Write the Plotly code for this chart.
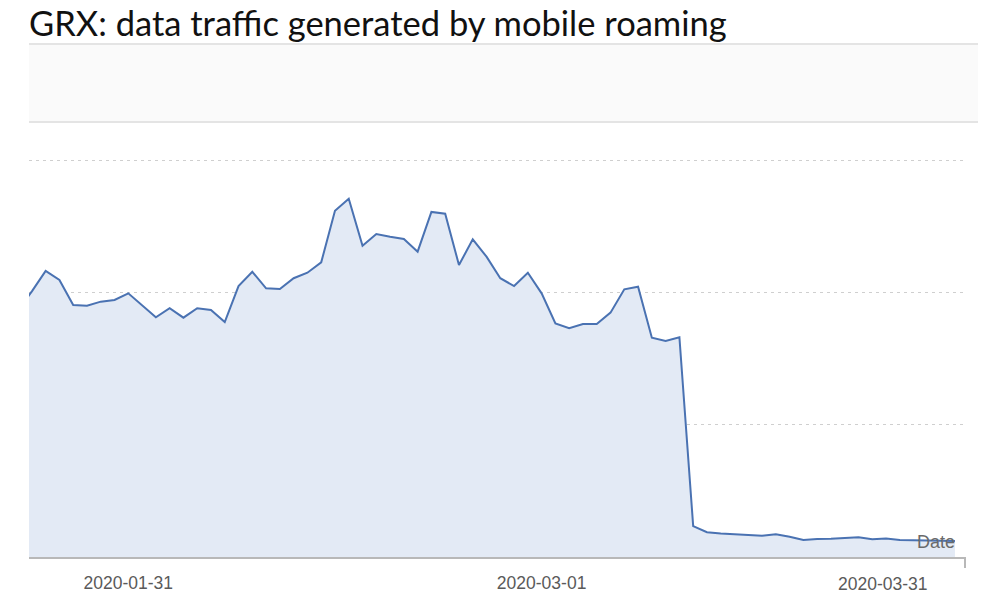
import pandas as pd
import plotly.graph_objects as go

# Daily dates (Jan 23 is just left of the visible window)
dates = pd.date_range("2020-01-23", "2020-03-31", freq="D")

# Relative traffic volume (arbitrary units; gridlines at 1, 2, 3)
traffic = [
    1.867, 2.008, 2.162, 2.094, 1.905, 1.899, 1.930, 1.943, 1.993,   # Jan 23-31
    1.905, 1.812, 1.880, 1.809, 1.880, 1.867, 1.776, 2.048, 2.156,   # Feb 1-9
    2.031, 2.026, 2.107, 2.149, 2.227, 2.617, 2.708, 2.353, 2.441,   # Feb 10-18
    2.421, 2.404, 2.308, 2.608, 2.595, 2.207, 2.401, 2.270, 2.107,   # Feb 19-27
    2.048, 2.149,                                                    # Feb 28-29
    1.993, 1.766, 1.729, 1.761, 1.761, 1.847, 2.023, 2.043, 1.658,   # Mar 1-9
    1.633, 1.661, 0.234, 0.187, 0.178, 0.172, 0.166, 0.161, 0.172,   # Mar 10-18
    0.153, 0.128, 0.136, 0.138, 0.141, 0.149, 0.134, 0.140, 0.128,   # Mar 19-27
    0.127, 0.126, 0.125, 0.121,                                      # Mar 28-31
]

tick_dates = ["2020-01-31", "2020-03-01"]
tick_labels = ["2020-01-31", "2020-03-01"]
last_label = "2020-03-31"
title_text = "GRX: data traffic generated by mobile roaming"
axis_title = "Date"

x_start = pd.Timestamp("2020-01-23 19:00")
x_end = pd.Timestamp("2020-03-31 17:30")

W, H = 999, 610
L, R, T, B = 29, 34, 130, 53
plot_h = H - T - B
plot_w = W - L - R


def py(y_px):
    """page pixel y -> paper y"""
    return (H - B - y_px) / plot_h


fig = go.Figure()
fig.add_trace(go.Scatter(
    x=dates, y=traffic, mode="lines",
    line=dict(color="#4a72b2", width=2),
    fill="tozeroy", fillcolor="rgba(227,234,245,1)",
    hoverinfo="skip", showlegend=False,
))

fig.update_layout(
    width=W, height=H,
    margin=dict(l=L, r=R, t=T, b=B, pad=0),
    paper_bgcolor="white", plot_bgcolor="white",
    showlegend=False,
    font=dict(family="Liberation Sans, Arial, sans-serif", color="#666666"),
    xaxis=dict(
        range=[x_start, x_end], showgrid=False, zeroline=False,
        showline=True, linecolor="#b8b8b8", linewidth=2,
        tickvals=tick_dates, ticktext=tick_labels, ticks="",
        ticklabelstandoff=9,
        tickfont=dict(size=17.5, color="#5a5a5a"),
    ),
    yaxis=dict(
        range=[0, (557 - 130) / 132.3], showticklabels=False, zeroline=False,
        showgrid=True, gridcolor="#cfcfcf", gridwidth=1, griddash="3px,4px",
        tickvals=[1, 2, 3], showline=False,
    ),
)

# decorative header band above the plot
band_right = (978 - L) / plot_w
fig.add_shape(type="rect", xref="paper", yref="paper",
              x0=0, x1=band_right, y0=py(122), y1=py(44),
              fillcolor="#fafafa", line=dict(width=0), layer="below")
for yy in (py(44), py(122)):
    fig.add_shape(type="line", xref="paper", yref="paper",
                  x0=0, x1=band_right, y0=yy, y1=yy,
                  line=dict(color="#e4e4e4", width=2))

# small end tick at the right end of the x axis
fig.add_shape(type="line", xref="paper", yref="paper",
              x0=1, x1=1, y0=0, y1=-11 / plot_h,
              line=dict(color="#b8b8b8", width=2))

# last tick label (shifted left to stay inside the axis)
fig.add_annotation(x=dates[-1], y=0, xref="x", yref="y",
                   text=last_label, showarrow=False,
                   xanchor="right", yanchor="top", xshift=-25, yshift=-15,
                   font=dict(size=17.5, color="#5a5a5a"))

# axis title "Date" at the end of the series
fig.add_annotation(x=dates[-1], y=0, xref="x", yref="y",
                   text=axis_title, showarrow=False,
                   xanchor="right", yanchor="bottom", xshift=2, yshift=3,
                   font=dict(size=18, color="#6a6a6a"))

# title
fig.add_annotation(xref="paper", yref="paper", x=0, y=py(0),
                   text=title_text, showarrow=False,
                   xanchor="left", yanchor="top", xshift=-2,
                   font=dict(family="Lato, Open Sans, sans-serif", size=34.5, color="#111111"))

fig.write_html(
    "out.html",
    config={"displayModeBar": False},
    post_script="document.body.style.margin='0';document.body.style.overflow='hidden';",
)
